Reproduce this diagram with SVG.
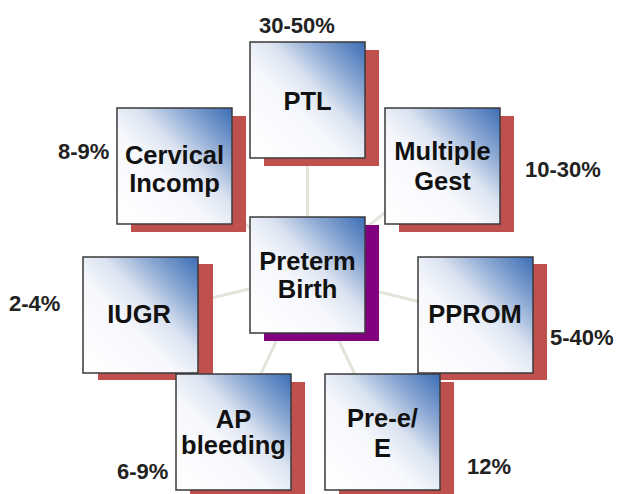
<svg xmlns="http://www.w3.org/2000/svg" width="617" height="494" viewBox="0 0 617 494">
<defs>
<linearGradient id="g" x1="1" y1="0" x2="0" y2="1">
<stop offset="0" stop-color="#3b6db5"/>
<stop offset="0.22" stop-color="#8aa7d3"/>
<stop offset="0.42" stop-color="#dce4f1"/>
<stop offset="0.6" stop-color="#f7f8fc"/>
<stop offset="1" stop-color="#ffffff"/>
</linearGradient>
<style>
.box{fill:url(#g);stroke:#3a3a3a;stroke-width:1.5}
.sh{fill:#c0504d}
.shp{fill:#800080}
.lbl{font-family:"Liberation Sans",Arial,sans-serif;font-weight:bold;font-size:25.5px;fill:#111;text-anchor:middle}
.pct{font-family:"Liberation Sans",Arial,sans-serif;font-weight:bold;font-size:22px;fill:#222}
.con{stroke:#e4e4dc;stroke-width:3;fill:none}
</style>
</defs>
<rect width="617" height="494" fill="#ffffff"/>
<g id="connectors">
<line class="con" x1="307.5" y1="275" x2="307.5" y2="100"/>
<line class="con" x1="307.5" y1="275" x2="174.5" y2="166"/>
<line class="con" x1="307.5" y1="275" x2="442.5" y2="166"/>
<line class="con" x1="307.5" y1="275" x2="140.5" y2="315"/>
<line class="con" x1="307.5" y1="275" x2="475.5" y2="315"/>
<line class="con" x1="307.5" y1="275" x2="233.5" y2="432"/>
<line class="con" x1="307.5" y1="275" x2="382.5" y2="432"/>
</g>
<g id="ptl">
<rect class="sh" x="264" y="50" width="115" height="116"/>
<rect class="box" x="250" y="42" width="115" height="116"/>
<text class="lbl" x="307.5" y="110">PTL</text>
<text class="pct" x="259" y="33">30-50%</text>
</g>
<g id="cervical">
<rect class="sh" x="131" y="116" width="115" height="116"/>
<rect class="box" x="117" y="108" width="115" height="116"/>
<text class="lbl" x="174.5" y="164">Cervical</text>
<text class="lbl" x="174.5" y="192">Incomp</text>
<text class="pct" x="58" y="159">8-9%</text>
</g>
<g id="multiple">
<rect class="sh" x="399" y="116" width="115" height="116"/>
<rect class="box" x="385" y="108" width="115" height="116"/>
<text class="lbl" x="442.5" y="160">Multiple</text>
<text class="lbl" x="442.5" y="190">Gest</text>
<text class="pct" x="525" y="177">10-30%</text>
</g>
<g id="center">
<rect class="shp" x="264" y="225" width="115" height="116"/>
<rect class="box" x="250" y="217" width="115" height="116"/>
<text class="lbl" x="307.5" y="270">Preterm</text>
<text class="lbl" x="307.5" y="298">Birth</text>
</g>
<g id="iugr">
<rect class="sh" x="98" y="264" width="115" height="116"/>
<rect class="box" x="83" y="257" width="115" height="116"/>
<text class="lbl" x="139" y="323">IUGR</text>
<text class="pct" x="9" y="311">2-4%</text>
</g>
<g id="pprom">
<rect class="sh" x="432" y="264" width="115" height="116"/>
<rect class="box" x="418" y="257" width="115" height="116"/>
<text class="lbl" x="475" y="323">PPROM</text>
<text class="pct" x="550" y="345">5-40%</text>
</g>
<g id="ap">
<rect class="sh" x="190" y="382" width="115" height="116"/>
<rect class="box" x="176" y="374" width="115" height="116"/>
<text class="lbl" x="233.5" y="428">AP</text>
<text class="lbl" x="233.5" y="454">bleeding</text>
<text class="pct" x="117" y="479">6-9%</text>
</g>
<g id="pree">
<rect class="sh" x="339" y="382" width="115" height="116"/>
<rect class="box" x="325" y="374" width="115" height="116"/>
<text class="lbl" x="382.5" y="427">Pre-e/</text>
<text class="lbl" x="382.5" y="457">E</text>
<text class="pct" x="467" y="474">12%</text>
</g>
</svg>
